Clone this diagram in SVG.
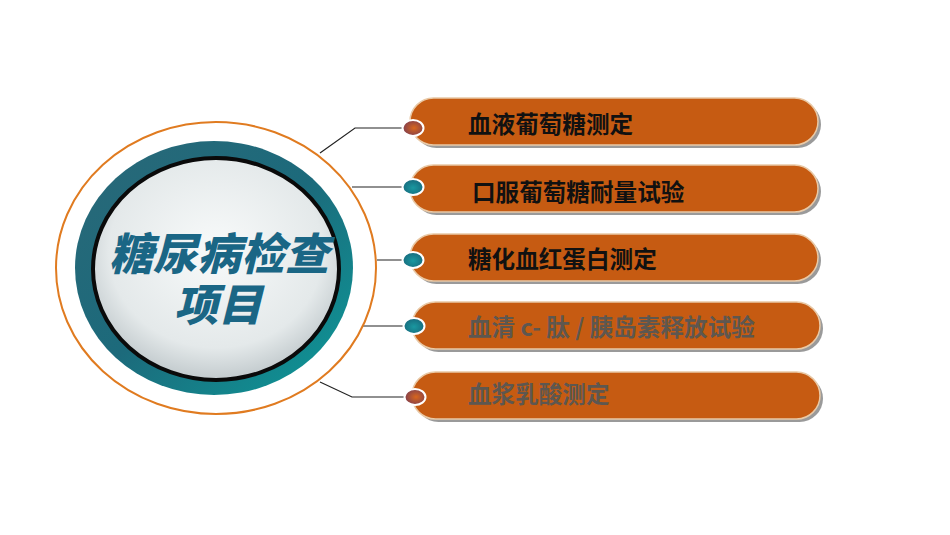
<svg xmlns="http://www.w3.org/2000/svg" width="950" height="535" viewBox="0 0 950 535">
<defs>
<style>
.pill{fill:#c65b12;stroke:#e9c9a6;stroke-width:1.5}
.shadow{fill:#9a9a9a}
.lbl{font-family:"Noto Sans CJK SC","Noto Sans",sans-serif;font-weight:bold;font-size:23.6px}
.dark{fill:#111111}
.gray{fill:#5d5750}
.conn{fill:none;stroke:#222222;stroke-width:1.2}
.dot{stroke:#ffffff;stroke-width:2}
.title{font-family:"Noto Sans CJK SC","Noto Sans",sans-serif;font-weight:900;font-size:44px;fill:#1a6685;font-style:italic}
</style>
<linearGradient id="ring" x1="0" y1="0" x2="1" y2="1">
<stop offset="0" stop-color="#2a6878"/>
<stop offset="0.5" stop-color="#1c6a7b"/>
<stop offset="1" stop-color="#0c9b9a"/>
</linearGradient>
<radialGradient id="face" cx="0.5" cy="0.42" r="0.58">
<stop offset="0" stop-color="#f8fafa"/>
<stop offset="0.75" stop-color="#e4e9ea"/>
<stop offset="1" stop-color="#c2cacd"/>
</radialGradient>
<radialGradient id="dotRed" cx="0.55" cy="0.5" r="0.6">
<stop offset="0" stop-color="#d8661c"/>
<stop offset="1" stop-color="#7a3b52"/>
</radialGradient>
<radialGradient id="dotTeal" cx="0.5" cy="0.55" r="0.6">
<stop offset="0" stop-color="#1a98a0"/>
<stop offset="1" stop-color="#176579"/>
</radialGradient>
</defs>
<rect width="950" height="535" fill="#ffffff"/>

<g id="connectors">
<polyline class="conn" points="320,153 355,128 410,128"/>
<polyline class="conn" points="352,187 410,187"/>
<polyline class="conn" points="377,260 410,260"/>
<polyline class="conn" points="352,326 410,326"/>
<polyline class="conn" points="320,382 352,397 410,397"/>
</g>

<g id="center">
<ellipse cx="216" cy="268" rx="160" ry="146" fill="#ffffff" stroke="#e07b20" stroke-width="2"/>
<ellipse cx="214" cy="268" rx="139" ry="127" fill="url(#ring)"/>
<ellipse cx="216" cy="269" rx="123" ry="111" fill="url(#face)" stroke="#0a0a0a" stroke-width="4"/>
<text class="title" x="219" y="270" text-anchor="middle">糖尿病检查</text>
<text class="title" x="218" y="321" text-anchor="middle">项目</text>
</g>

<g id="item1">
<rect class="shadow" x="413" y="101" width="408" height="47" rx="23.5"/>
<rect class="pill" x="410" y="98" width="408" height="47" rx="23.5"/>
<ellipse class="dot" cx="413" cy="128" rx="10.5" ry="8" fill="url(#dotRed)"/>
<text class="lbl dark" x="468" y="133">血液葡萄糖测定</text>
</g>

<g id="item2">
<rect class="shadow" x="413" y="168" width="408" height="47" rx="23.5"/>
<rect class="pill" x="410" y="165" width="408" height="47" rx="23.5"/>
<ellipse class="dot" cx="413" cy="187" rx="10.5" ry="8" fill="url(#dotTeal)"/>
<text class="lbl dark" x="472" y="201">口服葡萄糖耐量试验</text>
</g>

<g id="item3">
<rect class="shadow" x="413" y="237" width="408" height="47" rx="23.5"/>
<rect class="pill" x="410" y="234" width="408" height="47" rx="23.5"/>
<ellipse class="dot" cx="413" cy="260" rx="10.5" ry="8" fill="url(#dotTeal)"/>
<text class="lbl dark" x="468" y="268">糖化血红蛋白测定</text>
</g>

<g id="item4">
<rect class="shadow" x="415" y="305" width="408" height="47" rx="23.5"/>
<rect class="pill" x="412" y="302" width="408" height="47" rx="23.5"/>
<ellipse class="dot" cx="414" cy="326" rx="10.5" ry="8" fill="url(#dotTeal)"/>
<text class="lbl gray" x="468" y="336">血清 c- 肽 / 胰岛素释放试验</text>
</g>

<g id="item5">
<rect class="shadow" x="415" y="375" width="408" height="47" rx="23.5"/>
<rect class="pill" x="412" y="372" width="408" height="47" rx="23.5"/>
<ellipse class="dot" cx="415" cy="397" rx="10.5" ry="8" fill="url(#dotRed)"/>
<text class="lbl gray" x="468" y="403">血浆乳酸测定</text>
</g>
</svg>
